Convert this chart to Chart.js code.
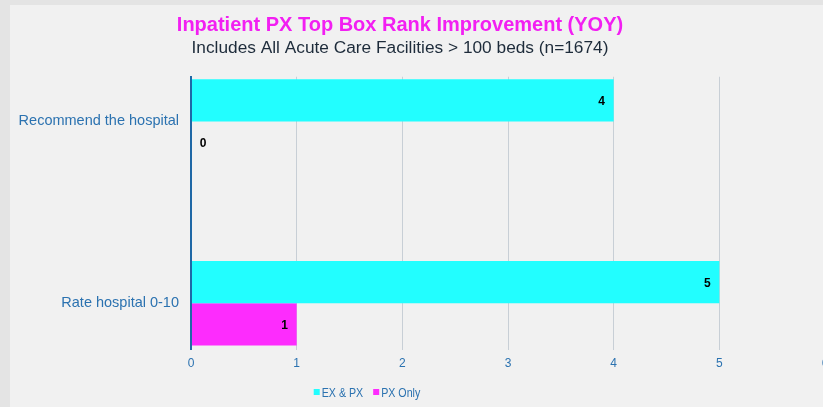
<!DOCTYPE html>
<html>
<head>
<meta charset="utf-8">
<script src="https://cdn.jsdelivr.net/npm/chart.js@4.4.0/dist/chart.umd.min.js"></script>
<style>
    html, body { margin: 0; padding: 0; }
    body { width: 823px; height: 407px; background: #e4e4e4; overflow: hidden; position: relative; }
    #panel { position: absolute; left: 10px; top: 5px; right: 0; bottom: 0; background: #f1f1f1; }
    #chart { position: absolute; left: -40px; top: 0; }
</style>
</head>
<body>
<div id="panel"></div>
<canvas id="chart" width="880" height="407"></canvas>
<script>
// Chart data
const categories = ['Recommend the hospital', 'Rate hospital 0-10'];
const exAndPx = [4, 5];
const pxOnly = [0, 1];
const xTicks = [0, 1, 2, 3, 4, 5, 6];
const seriesNames = ['EX & PX', 'PX Only'];

const blue = '#2b72b0';
const axisBlue = '#1f68a6';
const sansFont = '"Liberation Sans", Arial, sans-serif';

// Value labels at the end of each bar
const barValueLabels = {
    id: 'barValueLabels',
    afterDatasetsDraw(chart) {
        const ctx = chart.ctx;
        ctx.save();
        ctx.font = 'bold 12px ' + sansFont;
        ctx.fillStyle = '#000000';
        ctx.textAlign = 'center';
        ctx.textBaseline = 'middle';
        chart.data.datasets.forEach((ds, i) => {
            chart.getDatasetMeta(i).data.forEach((bar, j) => {
                const v = ds.data[j].x;
                const x = v > 0 ? bar.x - 12 : bar.base + 12;
                ctx.fillText(String(v), x, bar.y + 1);
            });
        });
        ctx.restore();
    }
};

// Small legend under the axis, a bit left of centre like the original.
// The original uses a narrow face, so the text is squeezed horizontally.
const bottomLegend = {
    id: 'bottomLegend',
    afterDraw(chart) {
        const ctx = chart.ctx;
        const squeeze = 0.82;
        ctx.save();
        ctx.font = '13px ' + sansFont;
        ctx.textBaseline = 'middle';
        const box = 6, gap = 2, spacing = 10;
        const items = chart.data.datasets.map(ds => ({
            text: ds.label,
            color: ds.backgroundColor,
            tw: ctx.measureText(ds.label).width * squeeze
        }));
        const total = items.reduce((s, it) => s + box + gap + it.tw, 0) + spacing * (items.length - 1);
        let x = 407 - total / 2;
        const y = 392;
        items.forEach(it => {
            ctx.fillStyle = it.color;
            ctx.fillRect(x, y - box / 2, box, box);
            ctx.save();
            ctx.translate(x + box + gap, y + 1);
            ctx.scale(squeeze, 1);
            ctx.fillStyle = blue;
            ctx.textAlign = 'left';
            ctx.fillText(it.text, 0, 0);
            ctx.restore();
            x += box + gap + it.tw + spacing;
        });
        ctx.restore();
    }
};

const ctx = document.getElementById('chart').getContext('2d');
const chart = new Chart(ctx, {
    type: 'bar',
    data: {
        datasets: [{
            label: seriesNames[0],
            data: exAndPx.map((v, i) => ({ x: v, y: i })),
            backgroundColor: '#22feff'
        }, {
            label: seriesNames[1],
            data: pxOnly.map((v, i) => ({ x: v, y: i })),
            backgroundColor: '#fd2cfd'
        }]
    },
    options: {
        indexAxis: 'y',
        responsive: false,
        animation: false,
        categoryPercentage: 0.464,
        barPercentage: 1,
        layout: {
            padding: { left: 15, right: 15, top: 0, bottom: 0 }
        },
        plugins: {
            legend: { display: false },
            tooltip: { enabled: false },
            title: {
                display: true,
                text: 'Inpatient PX Top Box Rank Improvement (YOY)',
                color: '#f21ff2',
                font: { family: sansFont, size: 20, weight: 'bold' },
                padding: { top: 13, bottom: 0 }
            },
            subtitle: {
                display: true,
                text: 'Includes All Acute Care Facilities > 100 beds (n=1674)',
                color: '#1d2b3a',
                font: { family: sansFont, size: 17.3 },
                padding: { top: 1, bottom: 18 }
            }
        },
        scales: {
            x: {
                type: 'linear',
                min: 0,
                max: 6,
                afterBuildTicks: s => { s.ticks = xTicks.map(v => ({ value: v })); },
                afterFit: s => { s.height = 61; },
                ticks: {
                    color: blue,
                    font: { family: sansFont, size: 12 },
                    padding: 6
                },
                grid: {
                    color: c => (c.tick && c.tick.value === 0) ? axisBlue : '#c8cfd6',
                    lineWidth: c => (c.tick && c.tick.value === 0) ? 2 : 1,
                    tickLength: 4
                },
                border: { display: false }
            },
            y: {
                type: 'linear',
                reverse: true,
                offset: false,
                bounds: 'data',
                min: -0.246,
                max: 1.235,
                afterBuildTicks: s => { s.ticks = categories.map((c, i) => ({ value: i })); },
                afterFit: s => { s.width = 216; },
                ticks: {
                    callback: v => categories[v],
                    color: blue,
                    font: { family: sansFont, size: 14.5 },
                    padding: 12
                },
                grid: { display: false, drawTicks: false, offset: false },
                border: { display: true, color: axisBlue, width: 2 }
            }
        }
    },
    plugins: [barValueLabels, bottomLegend]
});
</script>
</body>
</html>
